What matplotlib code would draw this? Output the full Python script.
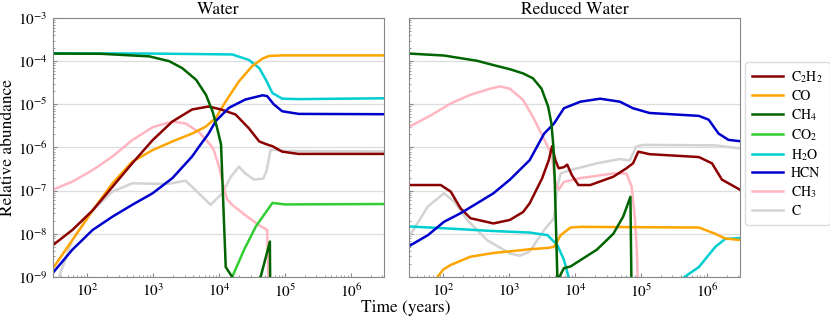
import matplotlib
matplotlib.use("Agg")
import matplotlib.pyplot as plt
from matplotlib.ticker import NullFormatter

plt.rcParams["font.family"] = ["STIXGeneral", "Liberation Serif", "DejaVu Serif"]
plt.rcParams["mathtext.fontset"] = "stix"

# values of 1e-11 only mark where a curve leaves the plotted range (below 1e-9)

# ---- Water ----
t_c2h2_w = [30, 59, 120, 240, 479, 977, 1950, 3890, 6920, 1.07e4, 1.78e4, 2.82e4, 4.07e4, 5.13e4, 6.46e4, 9.1e4, 1.6e5, 3.2e6]
c2h2_w = [5.5e-9, 1.23e-8, 3.5e-8, 1.23e-7, 4.3e-7, 1.48e-6, 4e-6, 7.6e-6, 8.9e-6, 7.6e-6, 5.8e-6, 2.8e-6, 1.38e-6, 1.2e-6, 1.07e-6, 8e-7, 7.1e-7, 7.1e-7]

t_co_w = [30, 59, 120, 240, 479, 977, 1950, 3890, 6170, 8900, 1.26e4, 2.0e4, 3.16e4, 4.57e4, 5.75e4, 9.1e4, 3.2e6]
co_w = [1.6e-9, 7.2e-9, 3.5e-8, 1.48e-7, 4.7e-7, 8.7e-7, 1.38e-6, 2.1e-6, 3e-6, 4.8e-6, 1.17e-5, 3.4e-5, 7.6e-5, 1.15e-4, 1.32e-4, 1.36e-4, 1.36e-4]

t_ch4_w = [30, 160, 870, 1740, 2750, 4470, 6310, 7940, 9330, 1.07e4, 1.15e4, 1.26e4, 1.58e4, 2.0e4, 3.5e4, 4.27e4, 5.9e4, 6.1e4]
ch4_w = [1.5e-4, 1.48e-4, 1.29e-4, 1e-4, 6.9e-5, 3.7e-5, 1.66e-5, 6.9e-6, 2.8e-6, 1.17e-6, 6.3e-8, 1.7e-9, 1e-9, 3e-10, 1e-11, 1e-9, 6.6e-9, 1e-11]

t_co2_w = [30, 1.0e4, 1.58e4, 2.4e4, 3.63e4, 6.46e4, 1.0e5, 3.2e6]
co2_w = [1e-11, 1e-11, 1e-9, 4.3e-9, 1.5e-8, 5.2e-8, 4.8e-8, 4.9e-8]

t_h2o_w = [30, 870, 1.58e4, 2.82e4, 4.07e4, 5.13e4, 6.46e4, 9.1e4, 1.62e5, 3.2e6]
h2o_w = [1.52e-4, 1.5e-4, 1.43e-4, 1.07e-4, 6.9e-5, 3.7e-5, 1.82e-5, 1.35e-5, 1.32e-5, 1.38e-5]

t_hcn_w = [30, 59, 120, 240, 479, 977, 1950, 3890, 5010, 6920, 8900, 1.41e4, 2.5e4, 4.57e4, 5.37e4, 6.76e4, 9.1e4, 1.62e5, 3.2e6]
hcn_w = [1.26e-9, 4.3e-9, 1.23e-8, 2.5e-8, 4.7e-8, 8.7e-8, 1.95e-7, 6.2e-7, 1.07e-6, 2.1e-6, 4.1e-6, 8.3e-6, 1.29e-5, 1.62e-5, 1.55e-5, 1e-5, 6.9e-6, 6e-6, 5.9e-6]

t_ch3_w = [30, 59, 120, 240, 479, 977, 1950, 3090, 4900, 7760, 8300, 1.0e4, 1.2e4, 1.32e4, 1.58e4, 2.5e4, 4.0e4, 5.37e4, 6.03e4]
ch3_w = [1.05e-7, 1.62e-7, 3e-7, 6.2e-7, 1.48e-6, 2.95e-6, 4e-6, 3.6e-6, 2.3e-6, 1.05e-6, 8.7e-7, 3.5e-7, 1.05e-7, 6.3e-8, 4.7e-8, 2.7e-8, 1.6e-8, 1.23e-8, 1e-11]

t_c_w = [30, 37, 59, 120, 240, 479, 977, 1740, 3090, 4900, 7410, 1.12e4, 1.51e4, 2.0e4, 2.5e4, 3.39e4, 4.68e4, 5.25e4, 6.03e4, 7.1e4, 1.0e5, 3.2e6]
c_w = [5e-10, 1e-9, 7.2e-9, 3.5e-8, 9.5e-8, 1.48e-7, 1.45e-7, 1.45e-7, 1.7e-7, 8.7e-8, 4.7e-8, 8.7e-8, 2.1e-7, 3.6e-7, 2.5e-7, 1.8e-7, 1.9e-7, 2.9e-7, 8.7e-7, 8.8e-7, 8.3e-7, 8.1e-7]

# ---- Reduced Water ----
t_c2h2_r = [30, 91, 129, 182, 257, 575, 1023, 1622, 2042, 3162, 3981, 4467, 5012, 5623, 6761, 7586, 8913, 1.12e4, 1.7e4, 3.8e4, 6.03e4, 7.59e4, 9.12e4, 1.35e5, 7.59e5, 1.2e6, 1.7e6, 3.2e6]
c2h2_r = [1.35e-7, 1.35e-7, 9.5e-8, 3.9e-8, 2.3e-8, 1.74e-8, 2.1e-8, 3.2e-8, 5.1e-8, 1.95e-7, 5.1e-7, 1.07e-6, 5.1e-7, 3.3e-7, 3.5e-7, 4e-7, 2.3e-7, 1.35e-7, 1.35e-7, 2.1e-7, 3.3e-7, 4.3e-7, 8e-7, 7e-7, 6e-7, 4.3e-7, 1.8e-7, 1.05e-7]

t_co_r = [65, 81, 100, 129, 257, 575, 1349, 2042, 3802, 4786, 6026, 8511, 1.2e4, 7.59e5, 1.35e6, 1.9e6, 3.2e6]
co_r = [4e-10, 1e-9, 1.5e-9, 1.9e-9, 2.95e-9, 3.6e-9, 4.1e-9, 4.4e-9, 4.7e-9, 5e-9, 9.3e-9, 1.4e-8, 1.45e-8, 1.4e-8, 1e-8, 7.8e-9, 7.2e-9]

t_ch4_r = [30, 102, 324, 575, 1023, 1622, 2290, 3090, 3890, 4365, 4677, 4900, 5370, 5754, 6761, 8511, 2.14e4, 3.8e4, 5.37e4, 6.92e4, 7.41e4]
ch4_r = [1.5e-4, 1.35e-4, 1.02e-4, 8.1e-5, 6.5e-5, 5.2e-5, 4e-5, 2.3e-5, 8.9e-6, 3.6e-6, 1.05e-6, 1.8e-7, 1e-9, 1e-9, 1.6e-9, 1.75e-9, 4.3e-9, 1e-8, 2.5e-8, 7.2e-8, 1e-11]

t_co2_r = [30, 3.2e6]
co2_r = [1e-11, 1e-11]

t_h2o_r = [30, 129, 513, 2042, 3802, 5370, 6761, 7943, 1.0e4, 4.0e5, 4.57e5, 7.59e5, 1.35e6, 1.9e6, 3.2e6]
h2o_r = [1.48e-8, 1.32e-8, 1.17e-8, 1.07e-8, 9.3e-9, 5.5e-9, 2.5e-9, 1e-9, 1e-11, 1e-11, 1e-9, 1.7e-9, 5e-9, 7.6e-9, 8e-9]

t_hcn_r = [30, 58, 102, 182, 324, 575, 1023, 2042, 3388, 4786, 6761, 1.2e4, 2.4e4, 4.79e4, 7.59e4, 1.35e5, 7.59e5, 1.07e6, 1.51e6, 2.14e6, 3.2e6]
hcn_r = [5.2e-9, 9.3e-9, 1.9e-8, 3e-8, 5.1e-8, 8.7e-8, 1.8e-7, 5.1e-7, 2.1e-6, 3.6e-6, 8.1e-6, 1.15e-5, 1.35e-5, 1.15e-5, 8.1e-6, 6.3e-6, 5.4e-6, 4.4e-6, 2.1e-6, 1.5e-6, 1.4e-6]

t_ch3_r = [30, 65, 129, 257, 513, 724, 1023, 1622, 2290, 3236, 4074, 4467, 4786, 5012, 5623, 6761, 1.2e4, 3.8e4, 6.03e4, 7.24e4, 8.13e4, 8.71e4, 9.55e4]
ch3_r = [3e-6, 5.6e-6, 1.05e-5, 1.66e-5, 2.3e-5, 2.6e-5, 2.3e-5, 1.26e-5, 5.1e-6, 1.78e-6, 8.7e-7, 6.2e-7, 2.5e-7, 1.6e-7, 1.05e-7, 1.6e-7, 1.95e-7, 2.5e-7, 2.5e-7, 1.23e-7, 2.1e-8, 3.5e-9, 1e-11]

t_c_r = [30, 58, 102, 145, 229, 457, 1023, 1445, 2042, 3388, 4786, 5370, 6026, 8511, 2.14e4, 4.79e4, 6.76e4, 8.51e4, 1.07e5, 1.35e6, 3.2e6]
c_r = [8.5e-9, 4.3e-8, 8.7e-8, 5.6e-8, 2.1e-8, 7.2e-9, 3.5e-9, 3.1e-9, 3.9e-9, 1.23e-8, 2.3e-8, 1.23e-7, 2.5e-7, 3e-7, 4.3e-7, 5.4e-7, 5e-7, 1.05e-6, 1.15e-6, 1.12e-6, 9.5e-7]

labels = [r"C$_2$H$_2$", "CO", r"CH$_4$", r"CO$_2$", r"H$_2$O", "HCN", r"CH$_3$", "C"]
colors = ["#8b0000", "#ffa500", "#006400", "#32cd32", "#00ced1", "#0000cd", "#ffb6c1", "#d3d3d3"]

water = [(t_c2h2_w, c2h2_w), (t_co_w, co_w), (t_ch4_w, ch4_w), (t_co2_w, co2_w),
         (t_h2o_w, h2o_w), (t_hcn_w, hcn_w), (t_ch3_w, ch3_w), (t_c_w, c_w)]
reduced = [(t_c2h2_r, c2h2_r), (t_co_r, co_r), (t_ch4_r, ch4_r), (t_co2_r, co2_r),
           (t_h2o_r, h2o_r), (t_hcn_r, hcn_r), (t_ch3_r, ch3_r), (t_c_r, c_r)]

fig = plt.figure(figsize=(8.3, 3.2), dpi=100)
ax1 = fig.add_axes([0.0639, 0.1344, 0.3988, 0.8094])
ax2 = fig.add_axes([0.4928, 0.1344, 0.3988, 0.8094], sharey=ax1)

# grey and pink go first so the darker lines sit on top
order = [7, 6, 3, 4, 1, 0, 5, 2]
for ax, data, title in [(ax1, water, "Water"), (ax2, reduced, "Reduced Water")]:
    for i in order:
        t, y = data[i]
        ax.plot(t, y, color=colors[i], lw=1.8, label=labels[i])
    ax.set_xscale("log")
    ax.set_yscale("log")
    ax.set_xlim(30, 3.2e6)
    ax.set_ylim(1e-9, 1e-3)
    ax.xaxis.set_minor_formatter(NullFormatter())
    ax.yaxis.set_minor_formatter(NullFormatter())
    ax.set_title(title, fontsize=12.5, pad=3)
    ax.grid(axis="y", which="major", color="#dddddd", lw=0.9)
    ax.set_axisbelow(True)
    for sp in ax.spines.values():
        sp.set_color("#888888")
    ax.tick_params(which="both", direction="in", color="#888888", labelsize=11)
    ax.tick_params(which="major", length=3, pad=4)
    ax.tick_params(which="minor", length=1.5)

ax2.tick_params(labelleft=False)
ax1.set_ylabel("Relative abundance", fontsize=12.5, labelpad=1)
fig.text(0.489, 0.025, "Time (years)", ha="center", fontsize=12.5)

handles, labs = ax1.get_legend_handles_labels()
hmap = dict(zip(labs, handles))
fig.legend([hmap[l] for l in labels], labels, loc="upper left", bbox_to_anchor=(0.898, 0.805),
           fontsize=10, labelspacing=0.3, framealpha=1, edgecolor="#dddddd",
           handlelength=2.2, handletextpad=0.6, borderpad=0.5, borderaxespad=0)

fig.savefig("out.png", dpi=100)
